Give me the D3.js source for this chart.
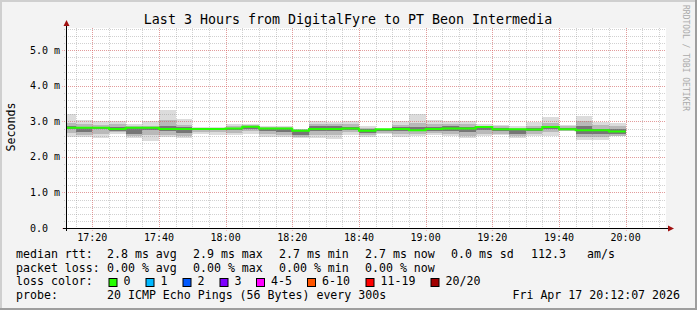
<!DOCTYPE html>
<html>
<head>
<meta charset="utf-8">
<script src="https://cdn.jsdelivr.net/npm/d3@7"></script>
<style>
  body { margin: 0; background: #f3f3f3; }
  svg { display: block; font-family: "DejaVu Sans Mono", monospace; }
</style>
</head>
<body>
<svg id="chart"></svg>
<script>
// end time of every 5 minute step (hour, minute)
const stepEnds = [
  [17,15],[17,20],[17,25],[17,30],[17,35],[17,40],[17,45],[17,50],[17,55],[18,0],
  [18,5],[18,10],[18,15],[18,20],[18,25],[18,30],[18,35],[18,40],[18,45],[18,50],
  [18,55],[19,0],[19,5],[19,10],[19,15],[19,20],[19,25],[19,30],[19,35],[19,40],
  [19,45],[19,50],[19,55],[20,0]
];
// ping spread per step, in ms (smoke from outer to inner)
const pingMax = [3.20,3.04,3.00,3.02,2.92,3.00,3.32,3.06,2.84,2.84,2.92,2.94,2.86,2.86,2.80,3.00,2.98,3.00,2.86,2.80,3.00,3.20,3.04,3.00,3.00,2.92,2.90,2.86,2.98,3.12,2.90,3.14,2.98,2.95];
const pingHi  = [2.95,2.92,2.90,2.92,2.88,2.88,3.05,2.90,2.82,2.82,2.88,2.90,2.84,2.84,2.78,2.94,2.92,2.92,2.82,2.79,2.90,2.96,2.92,2.92,2.92,2.88,2.86,2.82,2.88,2.96,2.86,3.00,2.90,2.86];
const pingUp  = [2.86,2.85,2.84,2.85,2.84,2.84,2.86,2.84,2.80,2.80,2.82,2.86,2.82,2.82,2.76,2.88,2.86,2.84,2.78,2.78,2.84,2.84,2.84,2.86,2.84,2.86,2.82,2.80,2.82,2.88,2.82,2.86,2.80,2.80];
const median  = [2.82,2.82,2.82,2.79,2.82,2.82,2.79,2.79,2.79,2.79,2.80,2.85,2.80,2.80,2.74,2.79,2.79,2.80,2.74,2.78,2.79,2.75,2.79,2.80,2.80,2.84,2.78,2.78,2.77,2.84,2.78,2.75,2.75,2.72];
const pingDn  = [2.78,2.70,2.78,2.74,2.66,2.76,2.74,2.68,2.76,2.76,2.76,2.80,2.74,2.70,2.62,2.72,2.74,2.76,2.68,2.72,2.72,2.72,2.74,2.74,2.70,2.76,2.72,2.66,2.72,2.78,2.76,2.64,2.64,2.66];
const pingLo  = [2.68,2.62,2.66,2.70,2.58,2.62,2.62,2.60,2.70,2.70,2.68,2.72,2.66,2.62,2.56,2.62,2.62,2.70,2.62,2.68,2.64,2.66,2.68,2.66,2.60,2.66,2.66,2.60,2.64,2.70,2.74,2.56,2.56,2.60];
const pingMin = [2.56,2.56,2.52,2.66,2.54,2.46,2.56,2.54,2.64,2.62,2.62,2.66,2.56,2.56,2.52,2.54,2.50,2.62,2.56,2.64,2.56,2.58,2.62,2.60,2.54,2.60,2.62,2.54,2.58,2.60,2.72,2.48,2.48,2.58];

const yTicks = [0, 1, 2, 3, 4, 5];
const yTickLabels = ["0.0", "1.0 m", "2.0 m", "3.0 m", "4.0 m", "5.0 m"];

const statRows = [
  ["median rtt:", "2.8 ms avg", "2.9 ms max", "2.7 ms min", "2.7 ms now", "0.0 ms sd", "112.3", "am/s"],
  ["packet loss:", "0.00 % avg", "0.00 % max", "0.00 % min", "0.00 % now"]
];
const lossLabels = ["0", "1", "2", "3", "4-5", "6-10", "11-19", "20/20"];
const lossColors = ["#26ff00", "#00b8ff", "#0059ff", "#7e00ff", "#ff00ff", "#ff5500", "#ff0000", "#a10000"];

const W = 697, H = 310;
const margin = {top: 28, left: 66, right: 31, bottom: 82};

const svg = d3.select("#chart").attr("width", W).attr("height", H);

// canvas + 3d frame
svg.append("rect").attr("width", W).attr("height", H).attr("fill", "#f3f3f3");
svg.append("rect").attr("x", 0).attr("y", 0).attr("width", W).attr("height", 2).attr("fill", "#cfcfcf");
svg.append("rect").attr("x", 0).attr("y", 0).attr("width", 2).attr("height", H).attr("fill", "#cfcfcf");
svg.append("rect").attr("x", 0).attr("y", H - 2).attr("width", W).attr("height", 2).attr("fill", "#9e9e9e");
svg.append("rect").attr("x", W - 2).attr("y", 0).attr("width", 2).attr("height", H).attr("fill", "#9e9e9e");

const t0 = new Date(2026, 3, 17, 17, 12, 7);
const t1 = new Date(2026, 3, 17, 20, 12, 7);

const x = d3.scaleTime().domain([t0, t1]).range([margin.left, W - margin.right]);
const y = d3.scaleLinear().domain([0, 5.63]).range([H - margin.bottom, margin.top]);

const plotX0 = x.range()[0], plotX1 = x.range()[1];
const plotY0 = y.range()[0], plotY1 = y.range()[1];

svg.append("rect")
  .attr("x", plotX0).attr("y", plotY1)
  .attr("width", plotX1 - plotX0).attr("height", plotY0 - plotY1)
  .attr("fill", "#ffffff");

// steps
const steps = stepEnds.map((d, i) => {
  const end = new Date(2026, 3, 17, d[0], d[1], 0);
  const start = new Date(end.getTime() - 300000);
  return {
    start: start < t0 ? t0 : start, end,
    max: pingMax[i], hi: pingHi[i], up: pingUp[i], med: median[i],
    dn: pingDn[i], lo: pingLo[i], min: pingMin[i]
  };
});

const smoke = svg.append("g");
const bands = [
  ["max", "min", "#dcdcdc"],
  ["hi", "lo", "#b9b9b9"],
  ["up", "dn", "#767676"]
];
bands.forEach(([top, bot, col]) => {
  smoke.selectAll(null).data(steps).join("rect")
    .attr("x", d => x(d.start))
    .attr("width", d => x(d.end) - x(d.start))
    .attr("y", d => y(d[top]))
    .attr("height", d => y(d[bot]) - y(d[top]))
    .attr("fill", col)
    .attr("shape-rendering", "crispEdges");
});

// grid on top of the smoke
const minorCol = "rgba(140,140,140,0.4)";
const majorCol = "rgba(255,70,70,0.38)";
const grid = svg.append("g").attr("shape-rendering", "crispEdges");
const minorY = d3.range(0, 5.61, 0.2);
grid.selectAll(null).data(minorY).join("line")
  .attr("x1", plotX0 - 2).attr("x2", plotX1)
  .attr("y1", d => Math.round(y(d)) + 0.5).attr("y2", d => Math.round(y(d)) + 0.5)
  .attr("stroke", minorCol).attr("stroke-dasharray", "1,1");
const minorX = d3.timeMinute.every(5).range(t0, t1);
grid.selectAll(null).data(minorX).join("line")
  .attr("x1", d => Math.round(x(d)) + 0.5).attr("x2", d => Math.round(x(d)) + 0.5)
  .attr("y1", plotY1).attr("y2", plotY0 + 2)
  .attr("stroke", minorCol).attr("stroke-dasharray", "1,1");
grid.selectAll(null).data(yTicks).join("line")
  .attr("x1", plotX0 - 4).attr("x2", plotX1)
  .attr("y1", d => Math.round(y(d)) + 0.5).attr("y2", d => Math.round(y(d)) + 0.5)
  .attr("stroke", majorCol).attr("stroke-dasharray", "1,1");
const majorX = d3.timeMinute.every(20).range(t0, t1);
grid.selectAll(null).data(majorX).join("line")
  .attr("x1", d => Math.round(x(d)) + 0.5).attr("x2", d => Math.round(x(d)) + 0.5)
  .attr("y1", plotY1).attr("y2", plotY0 + 3)
  .attr("stroke", majorCol).attr("stroke-dasharray", "1,1");

// median line
const medPts = [];
steps.forEach(d => { medPts.push([d.start, d.med]); medPts.push([d.end, d.med]); });
svg.append("path")
  .datum(medPts)
  .attr("d", d3.line().x(d => x(d[0])).y(d => y(d[1])))
  .attr("fill", "none")
  .attr("stroke", lossColors[0])
  .attr("stroke-width", 2);

// axes
const axisG = svg.append("g").attr("shape-rendering", "crispEdges");
axisG.append("line")
  .attr("x1", plotX0 - 3).attr("x2", plotX1 + 4)
  .attr("y1", plotY0 + 0.5).attr("y2", plotY0 + 0.5)
  .attr("stroke", "#000");
axisG.append("line")
  .attr("x1", plotX0 + 0.5).attr("x2", plotX0 + 0.5)
  .attr("y1", plotY0 + 3).attr("y2", plotY1 - 4)
  .attr("stroke", "#000");
svg.append("path")
  .attr("d", `M${plotX1 + 2},${plotY0 - 2.5}L${plotX1 + 8},${plotY0 + 0.5}L${plotX1 + 2},${plotY0 + 3.5}Z`)
  .attr("fill", "#a01010");
svg.append("path")
  .attr("d", `M${plotX0 - 2.5},${plotY1 - 2}L${plotX0 + 0.5},${plotY1 - 8}L${plotX0 + 3.5},${plotY1 - 2}Z`)
  .attr("fill", "#a01010");

// tick labels
svg.append("g").selectAll("text").data(majorX).join("text")
  .attr("x", d => x(d)).attr("y", plotY0 + 13)
  .attr("text-anchor", "middle")
  .attr("font-size", "10px").attr("fill", "#000")
  .text(d => d3.timeFormat("%H:%M")(d));

svg.append("g").selectAll("text").data(yTicks).join("text")
  .attr("x", 30).attr("y", d => y(d) + 3.5)
  .attr("font-size", "10px").attr("fill", "#000")
  .text((d, i) => yTickLabels[i]);

// titles
svg.append("text")
  .attr("x", 348).attr("y", 24)
  .attr("text-anchor", "middle")
  .attr("font-size", "13.3px").attr("fill", "#000")
  .text("Last 3 Hours from DigitalFyre to PT Beon Intermedia");

svg.append("text")
  .attr("transform", "translate(15,127) rotate(-90)")
  .attr("text-anchor", "middle")
  .attr("font-size", "11.6px").attr("fill", "#000")
  .text("Seconds");

svg.append("text")
  .attr("transform", "translate(683,58) rotate(90)")
  .attr("text-anchor", "middle")
  .attr("font-size", "8px").attr("fill", "#aaaaaa")
  .text("RRDTOOL / TOBI OETIKER");

// legend
const colX = [16, 107, 193, 279, 365, 451, 531, 587];
const rowY = [258, 272, 285, 299];
const legend = svg.append("g").attr("font-size", "11.6px").attr("fill", "#000");
statRows.forEach((row, r) => {
  row.forEach((s, c) => {
    legend.append("text").attr("x", colX[c]).attr("y", rowY[r]).attr("xml:space", "preserve").text(s);
  });
});
legend.append("text").attr("x", 16).attr("y", rowY[2]).text("loss color:");
const boxX = [108.5, 145.5, 182.5, 219.5, 256, 307, 365.5, 430.5];
lossLabels.forEach((l, i) => {
  legend.append("rect")
    .attr("x", boxX[i] + 0.5).attr("y", 278.5)
    .attr("width", 8).attr("height", 8)
    .attr("fill", lossColors[i]).attr("stroke", "#000").attr("stroke-width", 1);
  legend.append("text").attr("x", boxX[i] + 15).attr("y", rowY[2]).text(l);
});
legend.append("text").attr("x", 16).attr("y", rowY[3]).text("probe:");
legend.append("text").attr("x", 107).attr("y", rowY[3]).text("20 ICMP Echo Pings (56 Bytes) every 300s");
legend.append("text").attr("x", 680).attr("y", rowY[3]).attr("text-anchor", "end").text("Fri Apr 17 20:12:07 2026");
</script>
</body>
</html>
